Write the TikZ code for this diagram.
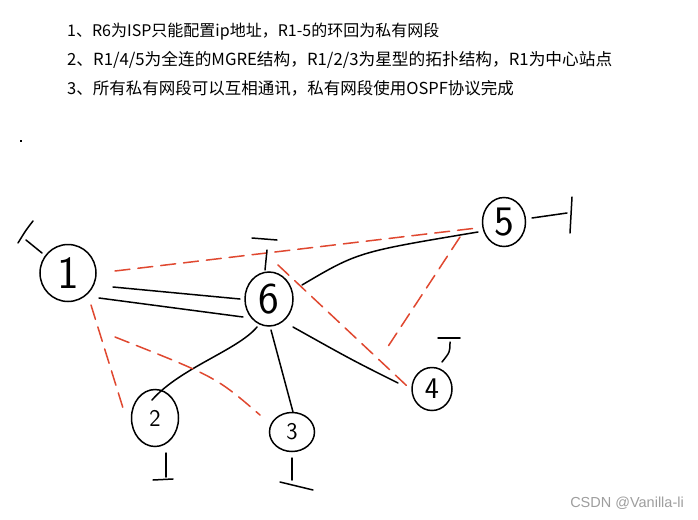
\documentclass[tikz,border=0pt]{standalone}
\usepackage{fontspec}
\newfontfamily\cjk{Noto Sans CJK SC}
\newfontfamily\wm{Liberation Sans}
\usetikzlibrary{shapes.geometric,calc}
\definecolor{sketchred}{RGB}{224,72,48}
\begin{document}
\begin{tikzpicture}[x=1pt,y=-1pt,
  router/.style={draw, ellipse, line width=1.5pt, inner sep=0pt},
  digit/.style={font=\sffamily\fontsize{#1}{#1}\selectfont},
  link/.style={line width=1.5pt, line cap=round},
  tunnel/.style={draw=sketchred, line width=1.5pt, dash pattern=on 15pt off 8pt, line cap=round},
  stub/.style={line width=1.5pt, line cap=round},
  note/.style={anchor=west, inner sep=0pt}]
\useasboundingbox (0,0) rectangle (698,519);
\fill[white] (0,0) rectangle (698,519);

% texts
\node[note, font=\cjk\fontsize{16}{19}\selectfont] (t1) at (67,32) {1、R6为ISP只能配置ip地址，R1-5的环回为私有网段};
\node[note, font=\cjk\fontsize{16.7}{20}\selectfont] (t2) at (67,60) {2、R1/4/5为全连的MGRE结构，R1/2/3为星型的拓扑结构，R1为中心站点};
\node[note, font=\cjk\fontsize{16.5}{20}\selectfont] (t3) at (67,88) {3、所有私有网段可以互相通讯，私有网段使用OSPF协议完成};
\fill (20,140) rectangle (22,142);
\node[anchor=east, inner sep=0pt, font=\wm\fontsize{14.5}{16}\selectfont, text=black!38] (wm) at (684,503) {CSDN @Vanilla-li};

% routers
\node[router, minimum width=56pt, minimum height=57pt, digit=46] (r1) at (68,273) {1};
\node[router, minimum width=48pt, minimum height=54pt, digit=44] (r6) at (269,299) {6};
\node[router, minimum width=43pt, minimum height=49pt, digit=42] (r5) at (504,222) {5};
\node[router, minimum width=40pt, minimum height=43pt, digit=30] (r4) at (432,389) {4};
\node[router, minimum width=47pt, minimum height=57pt, digit=24] (r2) at (155,418) {2};
\node[router, minimum width=45pt, minimum height=39pt, digit=24] (r3) at (292,432) {3};

% physical links
\draw[link] ($(r1)+(45,14)$) -- ($(r6)+(-29,0)$);
\draw[link] ($(r1)+(31,25)$) -- ($(r6)+(-26,18)$);
\draw[link] ($(r6)+(33,-14)$) .. controls (358,252) .. ($(r5)+(-26,10)$);
\draw[link] ($(r6)+(24,28)$) .. controls (352,360) .. ($(r4)+(-34,-6)$);
\draw[link] ($(r6)+(2,31)$) -- ($(r3)+(1,-20)$);
\draw[link] ($(r6)+(-12,28)$) .. controls (238,350) and (180,368) .. ($(r2)+(-3,-18)$);

% tunnels
\draw[tunnel] ($(r1)+(47,-2)$) -- ($(r5)+(-27,6)$);
\draw[tunnel] ($(r1)+(23,32)$) -- ($(r2)+(-32,-10)$);
\draw[tunnel] ($(r1)+(47,64)$) .. controls (216,377) .. ($(r3)+(-32,-17)$);
\draw[tunnel] ($(r6)+(9,-34)$) -- ($(r4)+(-25,-3)$);
\draw[tunnel] ($(r5)+(-44,15)$) -- ($(r4)+(-45,-41)$);

% loopbacks
\coordinate (l1) at (26,240); \coordinate (l1a) at (33,221); \coordinate (l1b) at (18,243);
\draw[stub] ($(r1)+(-26,-20)$) -- (l1);
\draw[stub] (l1a) .. controls (26,230) .. (l1b);
\coordinate (l6) at (267,250); \coordinate (l6a) at (252,238); \coordinate (l6b) at (277,240);
\draw[stub] ($(r6)+(-4,-29)$) -- (l6);
\draw[stub] (l6a) -- (l6b);
\coordinate (l5) at (567,213); \coordinate (l5a) at (572,197); \coordinate (l5b) at (570,233);
\draw[stub] ($(r5)+(28,-4)$) -- (l5);
\draw[stub] (l5a) -- (l5b);
\coordinate (l4) at (450,342); \coordinate (l4a) at (438,338); \coordinate (l4b) at (460,338);
\draw[stub] ($(r4)+(10,-27)$) .. controls (450,352) .. (l4);
\draw[stub] (l4a) -- (l4b);
\coordinate (l2) at (166,477); \coordinate (l2a) at (153,480); \coordinate (l2b) at (173,479);
\draw[stub] ($(r2)+(11,35)$) -- (l2);
\draw[stub] (l2a) -- (l2b);
\coordinate (l3) at (292,480); \coordinate (l3a) at (280,482); \coordinate (l3b) at (313,490);
\draw[stub] ($(r3)+(0,26)$) -- (l3);
\draw[stub] (l3a) -- (l3b);
\end{tikzpicture}
\end{document}
